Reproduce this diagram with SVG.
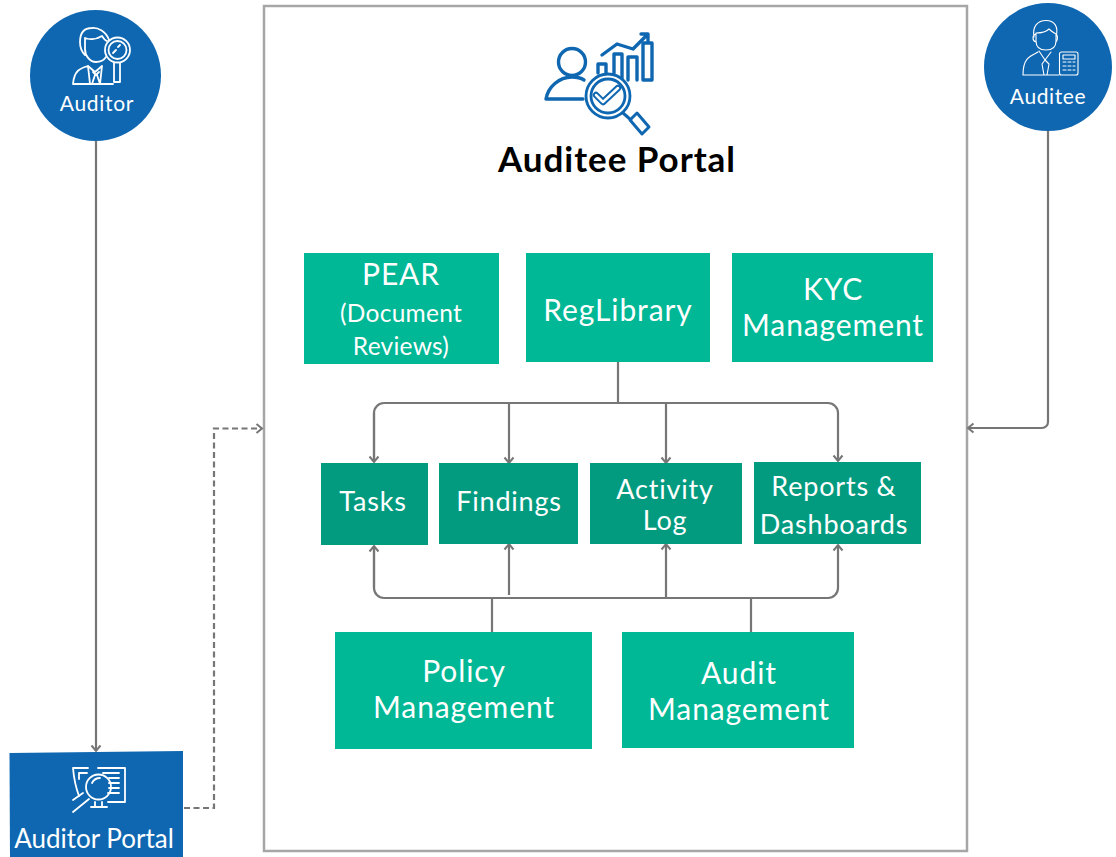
<svg xmlns="http://www.w3.org/2000/svg" width="1116" height="857" viewBox="0 0 1116 857">
<defs>
<marker id="arr" markerUnits="userSpaceOnUse" markerWidth="12" markerHeight="12" refX="9" refY="6" orient="auto"><path d="M3.500 1.500 L9 6 L3.500 10.500" fill="none" stroke="#767676" stroke-width="2"/></marker>
</defs>
<style>
text{font-family:"Lato","Noto Sans","Liberation Sans",sans-serif;fill:#fff;text-anchor:middle}
.g{fill:#00b796}.d{fill:#039b7f}.b{fill:#0f67b1}
.c{fill:none;stroke:#767676;stroke-width:2.200}
.w{fill:none;stroke:#fff;stroke-width:1.800;stroke-linejoin:round;stroke-linecap:round}
.w1{fill:none;stroke:#fff;stroke-width:1.100;stroke-linejoin:round;stroke-linecap:round}
.i{fill:none;stroke:#0f67b1;stroke-width:3.400;stroke-linejoin:round;stroke-linecap:round}
.t28{font-size:30px;letter-spacing:.9px}.t26{font-size:27px;letter-spacing:.8px}.t24{font-size:24.500px;letter-spacing:.25px}
</style>
<rect id="frame" x="264" y="6" width="703" height="845" fill="#fff" stroke="#a6a6a6" stroke-width="2.500"/>
<g id="connectors">
<path class="c" d="M96 141V751" marker-end="url(#arr)"/>
<path class="c" d="M1048 131V422a6 6 0 0 1-6 6H968" marker-end="url(#arr)"/>
<path class="c" stroke-dasharray="6 3.500" d="M184 808H214V428.500H262" marker-end="url(#arr)"/>
<path class="c" d="M618 362V403"/>
<path class="c" d="M374 462V413a10 10 0 0 1 10-10H828a10 10 0 0 1 10 10V461" marker-end="url(#arr)"/>
<path class="c" d="M374 413V462" marker-end="url(#arr)"/>
<path class="c" d="M509 403V463" marker-end="url(#arr)"/>
<path class="c" d="M666 403V463" marker-end="url(#arr)"/>
<path class="c" d="M374 546V588a10 10 0 0 0 10 10H828a10 10 0 0 0 10-10V545" marker-end="url(#arr)"/>
<path class="c" d="M374 588V546" marker-end="url(#arr)"/>
<path class="c" d="M509 595V544" marker-end="url(#arr)"/>
<path class="c" d="M666 598V544" marker-end="url(#arr)"/>
<path class="c" d="M492 598V632M751 598V632"/>
</g>
<g id="auditor">
<circle class="b" cx="95.500" cy="75.500" r="65.500"/>
<path class="w" d="M109 40C106 31 98 27.500 92 28C84 28 80 33 80 42C80 49 83 53 85 55M85 38C90 40 97 39 102 36C104 39 106 41 107 41M85 38V49C85 56 90 62 96 62C100 62 104 60 106 57"/>
<circle class="w" cx="117.500" cy="50" r="12.500"/><circle class="w" cx="117.500" cy="50" r="9"/>
<path class="w" d="M113 53L116 50M118 47L120 45"/>
<path class="w" d="M88 66C81 68 74 70 73 84H113M88 66L95 72L102 66M88 66L90 84M102 66L100 84M93 72L96 75L99 72M95 75L92 84M97 75L100 84M114 63V82H120V63"/>
<text x="97" y="110.500" style="font-size:21px;letter-spacing:.7px">Auditor</text>
</g>
<g id="auditee">
<circle class="b" cx="1048" cy="67" r="64"/>
<path class="w1" d="M1034 37C1032 26 1038 20.500 1046 20.500C1054 20.500 1059 26 1056 37M1036 33C1042 33 1047 31 1049 29C1051 31 1054 33 1056 34V41C1056 47 1052 50 1046 50C1040 50 1036 47 1036 41ZM1036 34C1032 35 1032 41 1036 42M1056 34C1058 35 1058 40 1056 42M1038 52C1030 56 1023 58 1023 75H1059M1039 51L1045 60L1051 52M1045 60L1042 64L1044 75H1047L1049 64L1045 60"/>
<rect class="w1" x="1059.500" y="52" width="18.500" height="23" rx="2"/>
<path class="w1" d="M1063 55H1075V59H1063ZM1063 62H1066M1068 62H1071M1073 62H1075M1063 66H1066M1068 66H1071M1073 66H1075M1063 70H1066M1068 70H1071M1073 70H1075"/>
<text x="1048" y="103.500" style="font-size:21px;letter-spacing:.6px">Auditee</text>
</g>
<g id="auditor-portal">
<path class="b" d="M9.500 753L183 751V857H10Z"/>
<path class="w" d="M79 796C76 788 74 780 73 768H88M98 768H125V802H108M95 802V807M102 802V807M91 807H107M79 773V779M79 773H87M103 773H119M109 778H119M109 783H119M109 788H119M108 793H119"/>
<circle class="w" cx="98.500" cy="787" r="12.500"/>
<path class="w" d="M92 783C94 779 97 778 100 778M73 800L83 793M73 812L89 799"/>
<text x="94" y="847.500" style="font-size:26px">Auditor Portal</text>
</g>
<g id="auditee-portal-title">
<circle class="i" cx="572" cy="62" r="13.500"/>
<path class="i" d="M546 99C548 87 559 77 572 77C577 77 581 78 584 80M546 99H583"/>
<path class="i" d="M598 73V64H606V73M614 73V54H622V80M628 80V57H637V80M643 80V43H652V80H643"/>
<path class="i" d="M602 55L617 44L633 49L647 35M641 34H648V41"/>
<circle class="i" cx="608" cy="96" r="22" style="stroke-width:2.800;fill:#fff"/><circle class="i" cx="608" cy="96" r="17" style="stroke-width:2.800"/>
<path class="i" d="M596 95L603 102L618 88" style="stroke-width:6.500"/>
<path d="M596 95L603 102L618 88" fill="none" stroke="#fff" stroke-width="2.500" stroke-linecap="round" stroke-linejoin="round"/>
<path class="i" d="M623 113L631 120M630 120L637 113L649 127L642 134Z" style="stroke-width:3"/>
<text x="617" y="171.500" style="font-size:35px;font-weight:700;fill:#000;letter-spacing:.95px">Auditee Portal</text>
</g>
<g id="pear"><rect class="g" x="304" y="253" width="195" height="111"/>
<text x="401" y="285" class="t28">PEAR</text><text x="401" y="322" class="t24">(Document</text><text x="401" y="355" class="t24">Reviews)</text></g>
<g id="reglibrary"><rect class="g" x="526" y="253" width="184" height="109"/><text x="618" y="321" class="t28">RegLibrary</text></g>
<g id="kyc"><rect class="g" x="732" y="253" width="201" height="109"/><text x="833" y="300" class="t28">KYC</text><text x="833" y="336" class="t28">Management</text></g>
<g id="tasks"><rect class="d" x="321" y="463" width="107" height="82"/><text x="373" y="511" class="t26">Tasks</text></g>
<g id="findings"><rect class="d" x="439" y="463" width="139" height="81"/><text x="509" y="511" class="t26">Findings</text></g>
<g id="activity"><rect class="d" x="590" y="463" width="152" height="81"/><text x="665" y="499" class="t26">Activity</text><text x="665" y="530" class="t26">Log</text></g>
<g id="reports"><rect class="d" x="754" y="462" width="167" height="82"/><text x="834" y="496" class="t26">Reports &amp;</text><text x="834" y="534" class="t26">Dashboards</text></g>
<g id="policy"><rect class="g" x="335" y="632" width="257" height="117"/><text x="464" y="682" class="t28">Policy</text><text x="464" y="718" class="t28">Management</text></g>
<g id="audit"><rect class="g" x="622" y="632" width="232" height="116"/><text x="739" y="684" class="t28">Audit</text><text x="739" y="720" class="t28">Management</text></g>
</svg>
